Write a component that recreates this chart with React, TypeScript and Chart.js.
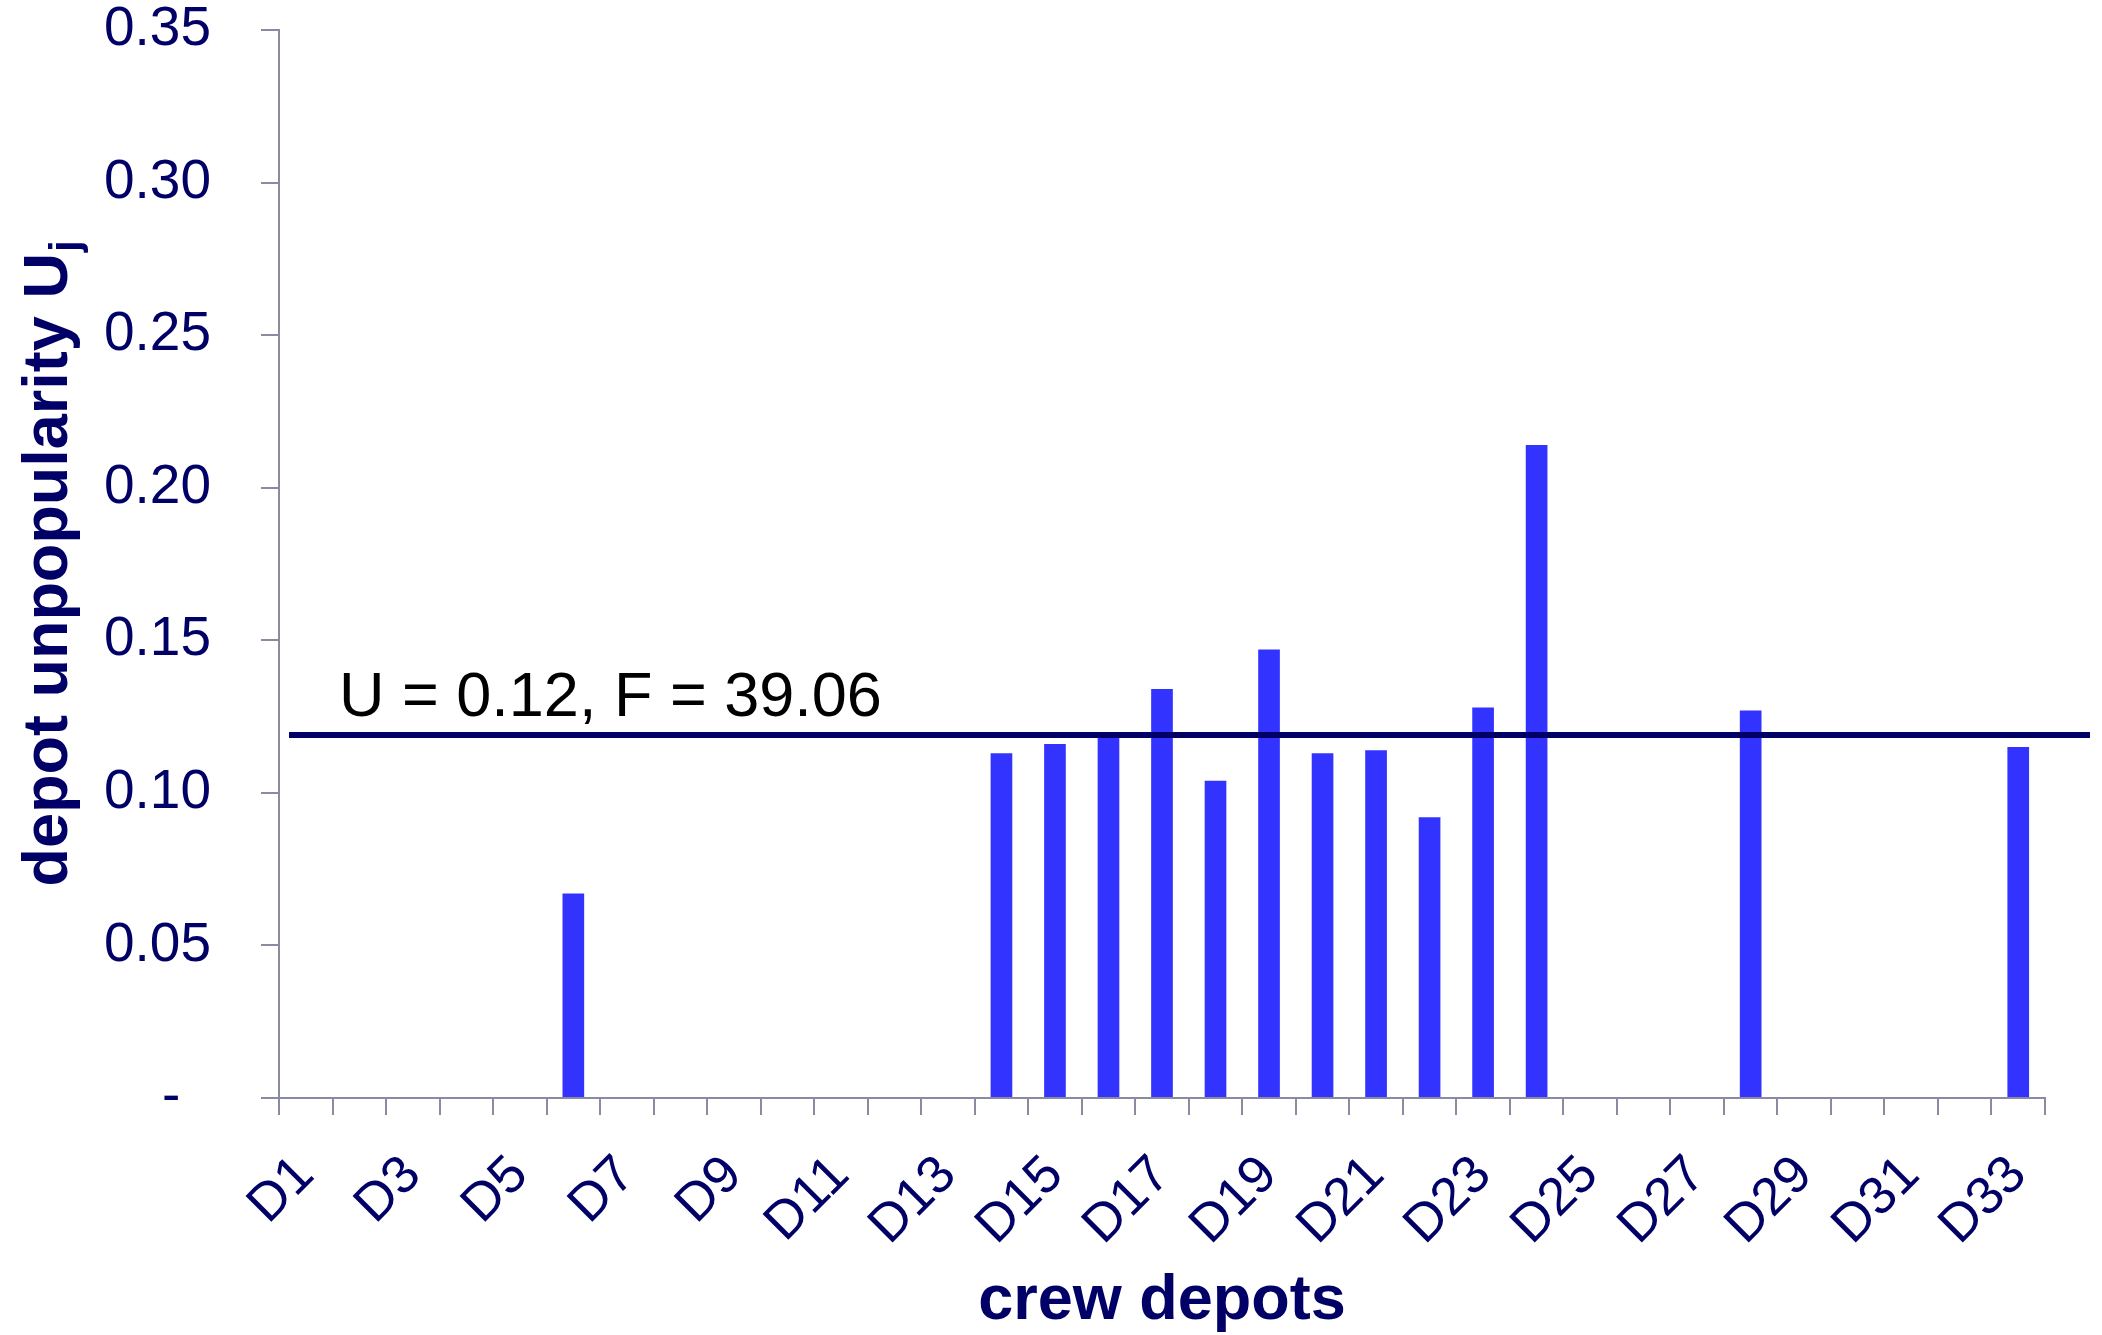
import React, { useEffect, useRef } from 'react';
import { Chart, registerables } from 'chart.js';

Chart.register(...registerables);

const depots: string[] = [
  'D1', 'D2', 'D3', 'D4', 'D5', 'D6', 'D7', 'D8', 'D9', 'D10', 'D11',
  'D12', 'D13', 'D14', 'D15', 'D16', 'D17', 'D18', 'D19', 'D20', 'D21', 'D22',
  'D23', 'D24', 'D25', 'D26', 'D27', 'D28', 'D29', 'D30', 'D31', 'D32', 'D33',
];

const unpopularity: number[] = [
  0, 0, 0, 0, 0, 0.067, 0, 0, 0, 0, 0,
  0, 0, 0.113, 0.116, 0.119, 0.134, 0.104, 0.147, 0.113, 0.114, 0.092,
  0.128, 0.214, 0, 0, 0, 0.127, 0, 0, 0, 0, 0.115,
];

const meanU = 0.119;
const annotationText = 'U = 0.12, F = 39.06';
const yTickMax = 0.35;
const yTickStep = 0.05;

const NAVY = '#000066';
const BAR = '#3333FF';
const AXIS = '#8A8AA3';
const FONT = '"Liberation Sans", Arial, sans-serif';

const overlayPlugin = {
  id: 'overlay',
  afterDatasetsDraw(chart: any) {
    const { ctx, chartArea, scales } = chart;
    const y = scales.y.getPixelForValue(meanU);
    ctx.save();
    ctx.strokeStyle = NAVY;
    ctx.lineWidth = 6;
    ctx.beginPath();
    ctx.moveTo(chartArea.left + 10, y);
    ctx.lineTo(chartArea.right + 45, y);
    ctx.stroke();
    ctx.fillStyle = '#000000';
    ctx.font = `63px ${FONT}`;
    ctx.textAlign = 'left';
    ctx.textBaseline = 'alphabetic';
    ctx.fillText(annotationText, chartArea.left + 60, y - 19);
    ctx.restore();
  },
  afterDraw(chart: any) {
    const { ctx, chartArea } = chart;
    const midY = (chartArea.top + chartArea.bottom) / 2;
    ctx.save();
    ctx.translate(67, midY);
    ctx.rotate(-Math.PI / 2);
    ctx.fillStyle = NAVY;
    ctx.textBaseline = 'alphabetic';
    ctx.textAlign = 'left';
    const main = 'depot unpopularity U';
    ctx.font = `bold 63px ${FONT}`;
    const w1 = ctx.measureText(main).width;
    ctx.font = `bold 42px ${FONT}`;
    const w2 = ctx.measureText('j').width;
    const start = -(w1 + w2) / 2;
    ctx.font = `bold 63px ${FONT}`;
    ctx.fillText(main, start, 0);
    ctx.font = `bold 42px ${FONT}`;
    ctx.fillText('j', start + w1 + 1, 12);
    ctx.restore();
  },
};

export default function App() {
  const ref = useRef<HTMLCanvasElement | null>(null);

  useEffect(() => {
    if (!ref.current) return;
    const chart = new Chart(ref.current, {
      type: 'bar',
      data: {
        labels: depots,
        datasets: [
          {
            data: unpopularity,
            backgroundColor: BAR,
            borderWidth: 0,
            barPercentage: 0.405,
            categoryPercentage: 1,
          },
        ],
      },
      options: {
        responsive: false,
        animation: false,
        layout: { padding: { top: 30, right: 57, bottom: 0, left: 0 } },
        plugins: { legend: { display: false }, tooltip: { enabled: false } },
        scales: {
          x: {
            grid: {
              offset: true,
              drawOnChartArea: false,
              drawTicks: true,
              tickLength: 17,
              color: AXIS,
              lineWidth: 2,
            },
            border: { color: AXIS, width: 2 },
            ticks: {
              autoSkip: false,
              minRotation: 45,
              maxRotation: 45,
              color: NAVY,
              font: { family: FONT, size: 53 },
              padding: 29,
              callback: (_v: any, i: number) => (i % 2 === 0 ? depots[i] : ''),
            },
            title: {
              display: true,
              text: 'crew depots',
              color: NAVY,
              font: { family: FONT, size: 63, weight: 'bold' },
              padding: { top: 0, bottom: -4 },
            },
            afterFit: (s: any) => {
              s.height = 237;
            },
          },
          y: {
            min: 0,
            max: yTickMax,
            grid: {
              drawOnChartArea: false,
              drawTicks: true,
              tickLength: 18,
              color: AXIS,
              lineWidth: 2,
            },
            border: { color: AXIS, width: 2 },
            ticks: {
              stepSize: yTickStep,
              color: NAVY,
              font: { family: FONT, size: 55, lineHeight: 1 },
              padding: 50,
              callback: (v: any) => (Number(v) === 0 ? '-  ' : Number(v).toFixed(2)),
            },
            afterFit: (s: any) => {
              s.width = 279;
              s.paddingTop = 20;
              s.paddingBottom = 20;
            },
          },
        },
      },
      plugins: [overlayPlugin],
    });
    return () => chart.destroy();
  }, []);

  return (
    <div style={{ position: 'absolute', left: 0, top: 0, width: 2102, height: 1335 }}>
      <canvas ref={ref} width={2102} height={1335} style={{ display: 'block' }} />
    </div>
  );
}
